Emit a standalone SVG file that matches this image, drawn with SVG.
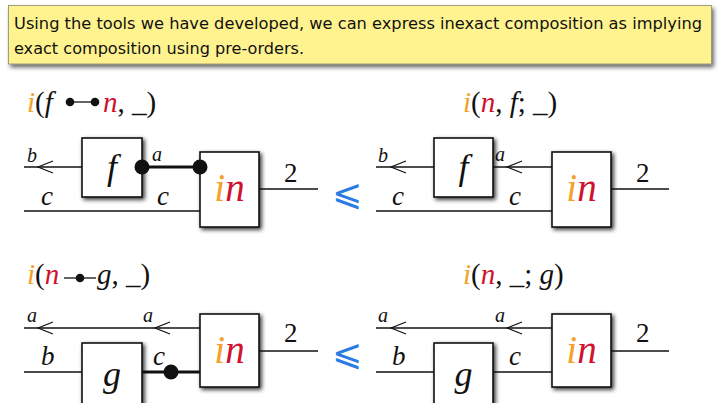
<svg xmlns="http://www.w3.org/2000/svg" width="719" height="403" viewBox="0 0 719 403">
<defs>
<filter id="sh" x="-30%" y="-30%" width="160%" height="160%">
<feGaussianBlur in="SourceAlpha" stdDeviation="2.2"/>
<feOffset dx="2" dy="2" result="b"/>
<feComponentTransfer><feFuncA type="linear" slope="0.8"/></feComponentTransfer>
<feMerge><feMergeNode/><feMergeNode in="SourceGraphic"/></feMerge>
</filter>
<filter id="sh2" x="-5%" y="-30%" width="110%" height="160%">
<feGaussianBlur in="SourceAlpha" stdDeviation="2"/>
<feOffset dx="2" dy="3" result="b"/>
<feComponentTransfer><feFuncA type="linear" slope="0.6"/></feComponentTransfer>
<feMerge><feMergeNode/><feMergeNode in="SourceGraphic"/></feMerge>
</filter>
</defs>
<style>
.hdr{font-family:"DejaVu Sans","Liberation Sans",sans-serif;font-size:16.5px;fill:#111}
.m{font-family:"Liberation Serif","DejaVu Serif",serif;font-style:italic;fill:#111}
.u{font-style:normal}
.t{font-size:29px}
.lbs{font-size:20px}
.lbl{font-size:27px}
.bx{font-size:36px}
.in{font-size:39px}
.num{font-family:"Liberation Serif",serif;font-size:27px;fill:#111}
.or{fill:#f2a22a}
.rd{fill:#d0122e}
.box{fill:#fff;stroke:#111;stroke-width:1.6}
.w{stroke:#111;stroke-width:1.3;fill:none}
.tw{stroke:#111;stroke-width:3;fill:none}
.ar{stroke:#111;stroke-width:1.2;fill:none}
.dot{fill:#111}
.leq{font-family:"DejaVu Sans",sans-serif;font-size:36px;fill:#2a7be4}
</style>
<rect width="719" height="403" fill="#fff"/>
<g id="header">
<rect x="8.5" y="5.5" width="703" height="58.5" fill="#fff38f" stroke="#8a8a70" stroke-width="0.8" filter="url(#sh2)"/>
<text class="hdr" x="14" y="29" textLength="688" lengthAdjust="spacingAndGlyphs">Using the tools we have developed, we can express inexact composition as implying</text>
<text class="hdr" x="14" y="54" textLength="290" lengthAdjust="spacingAndGlyphs">exact composition using pre-orders.</text>
</g>

<!-- Diagram 1 -->
<g id="title1">
<text class="m t" x="27" y="112"><tspan class="or">i</tspan><tspan class="u">(</tspan>f</text>
<line class="w" x1="70" y1="102" x2="95" y2="102"/>
<circle class="dot" cx="70" cy="102" r="4.3"/><circle class="dot" cx="95" cy="102" r="4.3"/>
<text class="m t" x="103" y="112"><tspan class="rd">n</tspan><tspan class="u">, </tspan>_<tspan class="u">)</tspan></text>
</g>
<g id="f1"><rect class="box" x="82" y="138" width="60" height="59" filter="url(#sh)"/><text class="m bx" x="112" y="179" text-anchor="middle">f</text></g>
<g id="in1"><rect class="box" x="200" y="152" width="59" height="75" filter="url(#sh)"/><text class="m in" x="229.5" y="201" text-anchor="middle"><tspan class="or">i</tspan><tspan class="rd">n</tspan></text></g>
<g id="connectors1">
<line class="w" x1="24" y1="167" x2="82" y2="167"/>
<path class="ar" d="M53,161 L38,167 L53,173"/>
<line class="w" x1="24" y1="211" x2="200" y2="211"/>
<line class="tw" x1="142" y1="167" x2="200" y2="167"/>
<circle class="dot" cx="142" cy="167" r="7.5"/>
<circle class="dot" cx="200" cy="167" r="7.5"/>
<line class="w" x1="259" y1="189" x2="318" y2="189"/>
</g>
<g id="labels1">
<text class="m lbs" x="27" y="162">b</text>
<text class="m lbl" x="41" y="205">c</text>
<text class="m lbs" x="152" y="161">a</text>
<text class="m lbl" x="157" y="205">c</text>
<text class="num" x="284" y="182">2</text>
</g>
<g id="leq1"><text class="leq" x="332" y="205">⩽</text></g>

<!-- Diagram 2 -->
<g id="title2">
<text class="m t" x="463" y="112"><tspan class="or">i</tspan><tspan class="u">(</tspan><tspan class="rd">n</tspan><tspan class="u">, </tspan>f<tspan class="u">; </tspan>_<tspan class="u">)</tspan></text>
</g>
<g id="f2"><rect class="box" x="434" y="138" width="59" height="59" filter="url(#sh)"/><text class="m bx" x="463.5" y="179" text-anchor="middle">f</text></g>
<g id="in2"><rect class="box" x="552" y="152" width="59" height="75" filter="url(#sh)"/><text class="m in" x="581.5" y="201" text-anchor="middle"><tspan class="or">i</tspan><tspan class="rd">n</tspan></text></g>
<g id="connectors2">
<line class="w" x1="376" y1="167" x2="434" y2="167"/>
<path class="ar" d="M406,161 L391,167 L406,173"/>
<line class="w" x1="493" y1="167" x2="552" y2="167"/>
<path class="ar" d="M522,161 L507,167 L522,173"/>
<line class="w" x1="376" y1="211" x2="552" y2="211"/>
<line class="w" x1="611" y1="189" x2="669" y2="189"/>
</g>
<g id="labels2">
<text class="m lbs" x="378" y="162">b</text>
<text class="m lbl" x="392" y="205">c</text>
<text class="m lbs" x="495" y="161">a</text>
<text class="m lbl" x="509" y="205">c</text>
<text class="num" x="636" y="182">2</text>
</g>

<!-- Diagram 3 -->
<g id="title3">
<text class="m t" x="27" y="284"><tspan class="or">i</tspan><tspan class="u">(</tspan><tspan class="rd">n</tspan></text>
<line class="w" x1="64" y1="278" x2="96" y2="278"/>
<circle class="dot" cx="80" cy="278" r="4.3"/>
<text class="m t" x="97" y="284">g<tspan class="u">, </tspan>_<tspan class="u">)</tspan></text>
</g>
<g id="g3"><rect class="box" x="82" y="343" width="60" height="62" filter="url(#sh)"/><text class="m bx" x="112" y="386" text-anchor="middle">g</text></g>
<g id="in3"><rect class="box" x="200" y="314" width="59" height="73" filter="url(#sh)"/><text class="m in" x="229.5" y="363" text-anchor="middle"><tspan class="or">i</tspan><tspan class="rd">n</tspan></text></g>
<g id="connectors3">
<line class="w" x1="24" y1="328" x2="200" y2="328"/>
<path class="ar" d="M53,322 L38,328 L53,334"/>
<path class="ar" d="M170,322 L155,328 L170,334"/>
<line class="w" x1="24" y1="372" x2="82" y2="372"/>
<line class="tw" x1="142" y1="372" x2="200" y2="372"/>
<circle class="dot" cx="171" cy="372" r="7.5"/>
<line class="w" x1="259" y1="351" x2="318" y2="351"/>
</g>
<g id="labels3">
<text class="m lbs" x="27" y="322">a</text>
<text class="m lbs" x="143" y="322">a</text>
<text class="m lbl" x="41" y="365">b</text>
<text class="m lbl" x="153" y="365">c</text>
<text class="num" x="284" y="342">2</text>
</g>
<g id="leq2"><text class="leq" x="332" y="365">⩽</text></g>

<!-- Diagram 4 -->
<g id="title4">
<text class="m t" x="463" y="284"><tspan class="or">i</tspan><tspan class="u">(</tspan><tspan class="rd">n</tspan><tspan class="u">, </tspan>_<tspan class="u">; </tspan>g<tspan class="u">)</tspan></text>
</g>
<g id="g4"><rect class="box" x="434" y="343" width="59" height="62" filter="url(#sh)"/><text class="m bx" x="463.5" y="386" text-anchor="middle">g</text></g>
<g id="in4"><rect class="box" x="552" y="314" width="59" height="73" filter="url(#sh)"/><text class="m in" x="581.5" y="363" text-anchor="middle"><tspan class="or">i</tspan><tspan class="rd">n</tspan></text></g>
<g id="connectors4">
<line class="w" x1="376" y1="328" x2="552" y2="328"/>
<path class="ar" d="M406,322 L391,328 L406,334"/>
<path class="ar" d="M522,322 L507,328 L522,334"/>
<line class="w" x1="376" y1="372" x2="434" y2="372"/>
<line class="w" x1="493" y1="372" x2="552" y2="372"/>
<line class="w" x1="611" y1="351" x2="669" y2="351"/>
</g>
<g id="labels4">
<text class="m lbs" x="378" y="322">a</text>
<text class="m lbs" x="495" y="322">a</text>
<text class="m lbl" x="392" y="365">b</text>
<text class="m lbl" x="509" y="365">c</text>
<text class="num" x="636" y="342">2</text>
</g>
</svg>
